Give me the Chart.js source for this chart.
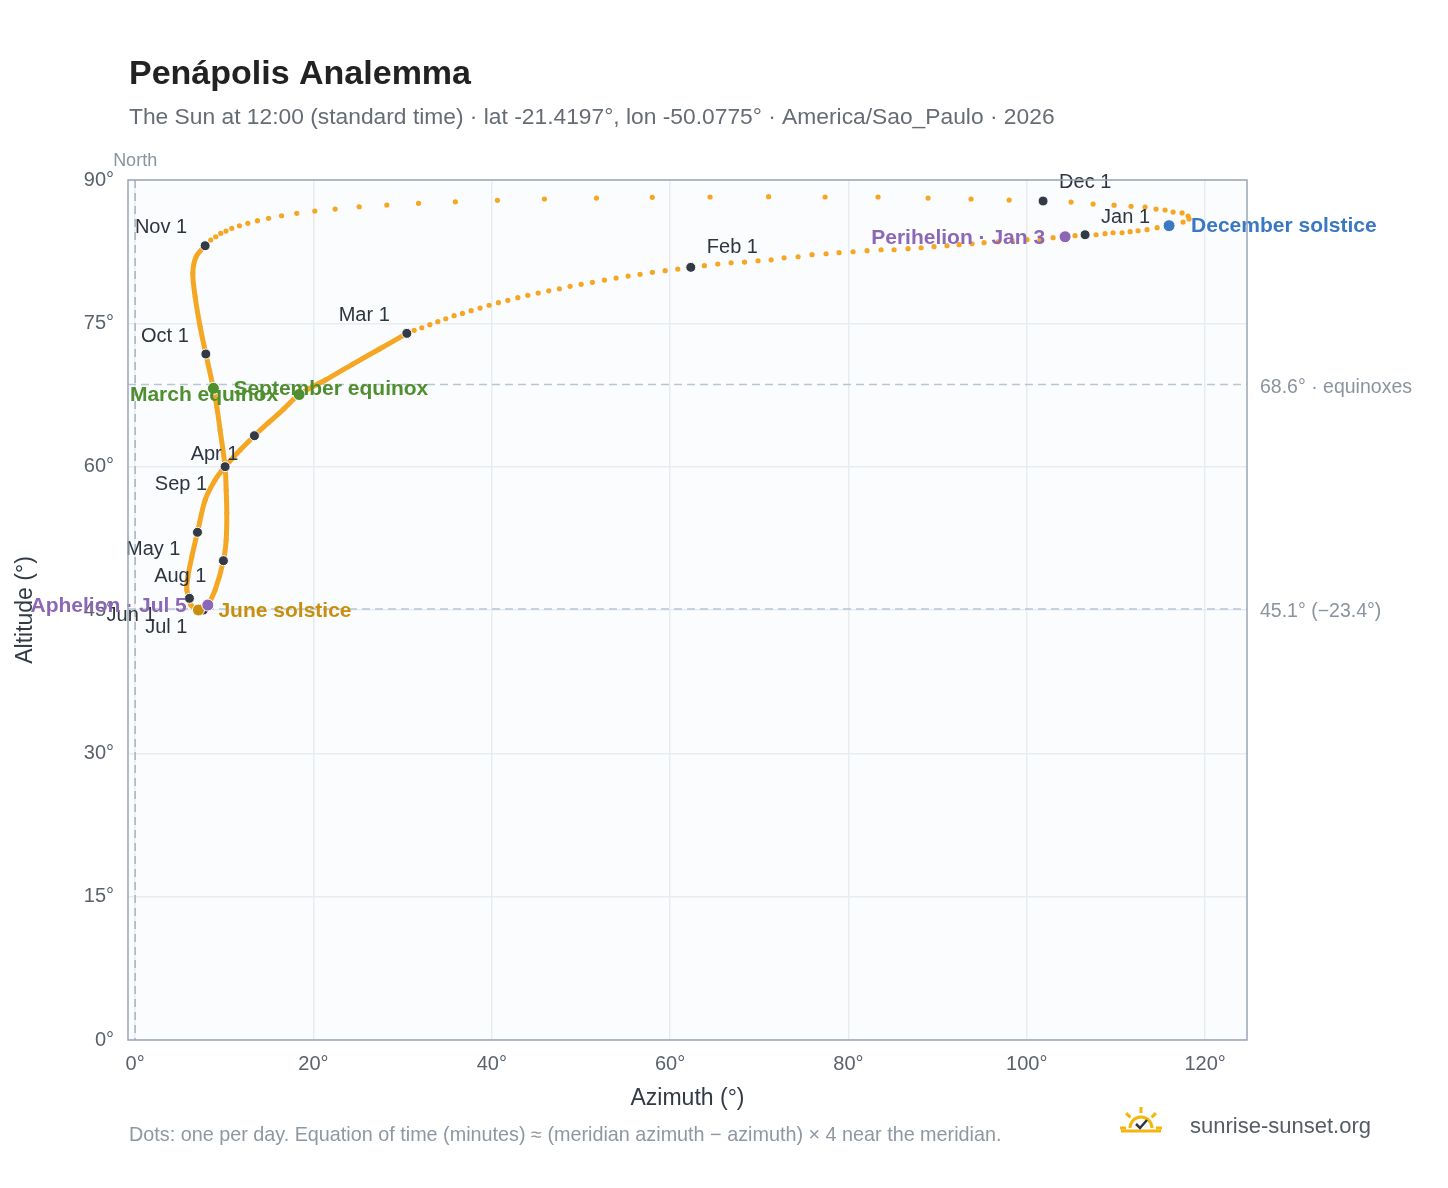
<!DOCTYPE html>
<html>
<head>
<meta charset="utf-8">
<script src="https://cdn.jsdelivr.net/npm/chart.js@4.4.1/dist/chart.umd.min.js"></script>
<style>
  html, body { margin: 0; padding: 0; background: #ffffff; }
  canvas { display: block; }
</style>
</head>
<body>
<canvas id="analemma" width="1448" height="1188"></canvas>
<script>
// Daily dots: Nov 1 -> Dec solstice -> Feb -> Mar 1 (sparse, drawn as dots)
const sparseAz = [7.85, 8.48, 9.04, 9.60, 10.19, 10.84, 11.70, 12.64, 13.72, 14.96, 16.42, 18.13, 20.15, 22.43,
  25.13, 28.23, 31.78, 35.91, 40.63, 45.90, 51.74, 58.00, 64.48, 71.05, 77.38, 83.32, 88.93, 93.75, 98.02,
  101.83, 104.97, 107.44, 109.79, 111.70, 113.27, 114.50, 115.51, 116.41, 117.42, 118.09, 118.20, 117.53,
  115.96, 114.62, 113.49, 112.48, 111.59, 110.69, 109.68, 108.78, 107.77, 106.54, 105.42, 104.30, 102.95,
  101.49, 100.03, 98.35, 96.78, 95.21, 93.87, 92.41, 91.06, 89.60, 88.15, 86.69, 85.12, 83.66, 82.09, 80.52,
  78.95, 77.49, 75.92, 74.35, 72.78, 71.33, 69.86, 68.35, 66.84, 65.35, 63.84, 62.32, 60.86, 59.44, 58.01,
  56.63, 55.29, 53.94, 52.63, 51.28, 50.02, 48.78, 47.58, 46.39, 45.20, 44.04, 42.92, 41.80, 40.74, 39.70,
  38.69, 37.68, 36.71, 35.77, 34.84, 33.95, 33.05, 32.15, 31.29, 30.47];
const sparseAlt = [83.09, 83.72, 84.06, 84.42, 84.66, 84.94, 85.21, 85.47, 85.74, 85.99, 86.26, 86.51, 86.75, 86.96,
  87.20, 87.38, 87.56, 87.72, 87.87, 88.01, 88.11, 88.19, 88.22, 88.25, 88.22, 88.22, 88.11, 88.01, 87.90,
  87.80, 87.69, 87.48, 87.37, 87.24, 87.17, 86.96, 86.86, 86.65, 86.55, 86.23, 85.92, 85.60,
  85.22, 85.01, 84.80, 84.69, 84.59, 84.48, 84.48, 84.38, 84.27, 84.27, 84.17, 84.06, 83.96,
  83.75, 83.75, 83.65, 83.54, 83.44, 83.33, 83.23, 83.12, 83.02, 82.91, 82.81, 82.70, 82.70, 82.60, 82.49,
  82.39, 82.28, 82.18, 81.97, 81.86, 81.65, 81.55, 81.41, 81.34, 81.21, 81.03, 80.86, 80.68, 80.51, 80.34,
  80.13, 79.95, 79.74, 79.53, 79.29, 79.08, 78.87, 78.62, 78.41, 78.17, 77.93, 77.68, 77.41, 77.16, 76.89,
  76.60, 76.32, 76.04, 75.80, 75.48, 75.17, 74.86, 74.54, 74.27, 73.95];

// Mar 1 -> Nov 1, where the dots run together into a thick line
const denseAz = [30.47, 27.36, 24.37, 21.39, 18.39, 16.63, 14.95, 13.38, 11.78, 10.09, 8.97, 7.85, 6.99,
  6.36, 5.91, 5.80, 6.09, 6.25, 7.10, 7.66, 8.15, 8.97, 9.90, 10.21, 10.28, 10.21, 10.09, 9.53, 9.16,
  8.78, 7.93, 7.29, 6.73, 6.47, 6.84, 7.85];
const denseAlt = [73.95, 72.29, 70.71, 69.10, 67.55, 66.00, 64.60, 63.24, 61.74, 60.00, 58.60, 56.51, 53.13,
  50.58, 48.48, 47.09, 46.22, 45.52, 45.00, 45.00, 45.52, 47.09, 50.16, 52.32, 55.12, 57.56, 60.00, 63.83, 66.28,
  68.20, 71.79, 74.65, 77.78, 80.23, 81.97, 83.12];

const monthNames = ['Jan 1', 'Feb 1', 'Mar 1', 'Apr 1', 'May 1', 'Jun 1', 'Jul 1', 'Aug 1', 'Sep 1', 'Oct 1', 'Nov 1', 'Dec 1'];
const monthAz = [106.54, 62.32, 30.47, 13.38, 6.99, 6.09, 7.66, 9.90, 10.09, 7.93, 7.85, 101.83];
const monthAlt = [84.27, 80.86, 73.95, 63.24, 53.13, 46.22, 45.00, 50.16, 60.00, 71.79, 83.12, 87.80];

const eventNames = ['March equinox', 'September equinox', 'June solstice', 'December solstice', 'Perihelion · Jan 3', 'Aphelion · Jul 5'];
const eventAz = [18.39, 8.78, 7.10, 115.96, 104.30, 8.15];
const eventAlt = [67.55, 68.20, 45.00, 85.22, 84.06, 45.52];

const xTicks = [0, 20, 40, 60, 80, 100, 120];
const yTicks = [0, 15, 30, 45, 60, 75, 90];

const refAlt = [68.6, 45.1];
const refNames = ['68.6° · equinoxes', '45.1° (−23.4°)'];

// styles and label offsets (pixels), kept apart from the values
const eventColors = ['#4f8f2f', '#4f8f2f', '#c98f0c', '#3a78c3', '#8c67b5', '#8c67b5'];
const monthLabelOffset = [[16, -17, 'left'], [16, -20, 'left'], [-17, -18, 'right'], [-16, 19, 'right'],
  [-17, 17, 'right'], [-34, 17, 'right'], [-16, 17, 'right'], [-17, 16, 'right'], [-18, 18, 'right'],
  [-17, -18, 'right'], [-18, -18, 'right'], [16, -19, 'left']];
const eventLabelOffset = [[-21, 1, 'right'], [20, 1, 'left'], [20, 1, 'left'], [22, 1, 'left'], [-20, 1, 'right'], [-21, 1, 'right']];

const ORANGE = '#f5a623';
const FONT = '"Liberation Sans", Arial, Helvetica, sans-serif';

const pts = (xs, ys) => xs.map((x, i) => ({x: x, y: ys[i]}));

const decorPlugin = {
  id: 'decor',
  beforeDraw(chart) {
    const {ctx, chartArea: a} = chart;
    ctx.save();
    ctx.fillStyle = '#ffffff';
    ctx.fillRect(0, 0, chart.width, chart.height);
    ctx.fillStyle = '#fbfcfe';
    ctx.fillRect(a.left, a.top, a.right - a.left, a.bottom - a.top);
    ctx.restore();
  },
  beforeDatasetsDraw(chart) {
    const {ctx, chartArea: a, scales: {x, y}} = chart;
    ctx.save();
    ctx.setLineDash([8, 5]);
    ctx.strokeStyle = '#b9c5d3';
    ctx.lineWidth = 1.5;
    refAlt.forEach(v => {
      const py = y.getPixelForValue(v);
      ctx.beginPath(); ctx.moveTo(a.left, py); ctx.lineTo(a.right, py); ctx.stroke();
    });
    const px = x.getPixelForValue(0);
    ctx.strokeStyle = '#a9b3bf';
    ctx.beginPath(); ctx.moveTo(px, a.top); ctx.lineTo(px, a.bottom); ctx.stroke();
    ctx.restore();
  },
  afterDatasetsDraw(chart) {
    const {ctx, chartArea: a, scales: {x, y}} = chart;
    ctx.save();
    ctx.textBaseline = 'middle';
    ctx.font = '20px ' + FONT;
    ctx.fillStyle = '#2f3540';
    monthNames.forEach((n, i) => {
      const o = monthLabelOffset[i];
      ctx.textAlign = o[2];
      ctx.fillText(n, x.getPixelForValue(monthAz[i]) + o[0], y.getPixelForValue(monthAlt[i]) + o[1]);
    });
    ctx.font = 'bold 21px ' + FONT;
    eventNames.forEach((n, i) => {
      const o = eventLabelOffset[i];
      ctx.fillStyle = eventColors[i];
      ctx.textAlign = o[2];
      ctx.fillText(n, x.getPixelForValue(eventAz[i]) + o[0], y.getPixelForValue(eventAlt[i]) + o[1]);
    });
    // reference line labels
    ctx.font = '19.5px ' + FONT;
    ctx.fillStyle = '#8a939e';
    ctx.textAlign = 'left';
    refNames.forEach((n, i) => ctx.fillText(n, a.right + 13, y.getPixelForValue(refAlt[i]) + 3));
    ctx.textAlign = 'center';
    ctx.font = '18px ' + FONT;
    ctx.fillText('North', x.getPixelForValue(0), a.top - 19);
    ctx.restore();
  },
  afterDraw(chart) {
    const {ctx, chartArea: a} = chart;
    ctx.save();
    ctx.strokeStyle = '#9aa6b4';
    ctx.lineWidth = 1.5;
    ctx.strokeRect(a.left, a.top, a.right - a.left, a.bottom - a.top);
    ctx.textBaseline = 'alphabetic';
    ctx.textAlign = 'left';
    ctx.fillStyle = '#222222';
    ctx.font = 'bold 34px ' + FONT;
    ctx.fillText('Penápolis Analemma', 129, 84);
    ctx.fillStyle = '#666c75';
    ctx.font = '22.8px ' + FONT;
    ctx.fillText('The Sun at 12:00 (standard time) · lat -21.4197°, lon -50.0775° · America/Sao_Paulo · 2026', 129, 124);
    ctx.fillStyle = '#8f97a1';
    ctx.font = '19.8px ' + FONT;
    ctx.fillText('Dots: one per day. Equation of time (minutes) ≈ (meridian azimuth − azimuth) × 4 near the meridian.', 129, 1141);
    ctx.fillStyle = '#333a45';
    ctx.font = '23px ' + FONT;
    ctx.textAlign = 'center';
    ctx.fillText('Azimuth (°)', (a.left + a.right) / 2, 1105);
    ctx.save();
    ctx.translate(32, (a.top + a.bottom) / 2);
    ctx.rotate(-Math.PI / 2);
    ctx.fillText('Altitude (°)', 0, 0);
    ctx.restore();
    // logo
    const cx = 1141, cy = 1128;
    ctx.strokeStyle = '#f5b50a';
    ctx.lineWidth = 3;
    ctx.beginPath(); ctx.arc(cx, cy, 11, Math.PI, 2 * Math.PI); ctx.stroke();
    for (let k = 0; k < 5; k++) {
      const ang = Math.PI + k * Math.PI / 4;
      ctx.beginPath();
      ctx.moveTo(cx + Math.cos(ang) * 15, cy + Math.sin(ang) * 15);
      ctx.lineTo(cx + Math.cos(ang) * 21, cy + Math.sin(ang) * 21);
      ctx.stroke();
    }
    ctx.beginPath(); ctx.moveTo(cx - 20, cy + 3); ctx.lineTo(cx + 20, cy + 3); ctx.stroke();
    ctx.strokeStyle = '#2f3540';
    ctx.lineWidth = 2.5;
    ctx.beginPath(); ctx.moveTo(cx - 5, cy - 4); ctx.lineTo(cx - 1, cy); ctx.lineTo(cx + 6, cy - 8); ctx.stroke();
    ctx.fillStyle = '#555c66';
    ctx.font = '22px ' + FONT;
    ctx.textAlign = 'left';
    ctx.fillText('sunrise-sunset.org', 1190, 1133);
    ctx.restore();
  }
};

const tickFont = {size: 20, family: FONT};

new Chart(document.getElementById('analemma'), {
  type: 'scatter',
  data: {
    datasets: [
      {
        data: pts(denseAz, denseAlt), showLine: true, borderColor: ORANGE, borderWidth: 5,
        tension: 0.3, pointRadius: 2.5, pointBackgroundColor: ORANGE, pointBorderWidth: 0, order: 3
      },
      {
        data: pts(sparseAz, sparseAlt), showLine: false, pointRadius: 2.6,
        pointBackgroundColor: ORANGE, pointBorderWidth: 0, order: 2
      },
      {
        data: pts(monthAz, monthAlt), showLine: false, pointRadius: 5,
        pointBackgroundColor: '#333a45', pointBorderColor: '#ffffff', pointBorderWidth: 1, order: 1
      },
      {
        data: pts(eventAz, eventAlt), showLine: false, pointRadius: 6,
        pointBackgroundColor: eventColors, pointBorderColor: '#ffffff', pointBorderWidth: 1, order: 0
      }
    ]
  },
  options: {
    responsive: false,
    animation: false,
    devicePixelRatio: 1,
    clip: false,
    layout: {padding: {left: 0, top: 180, right: 201, bottom: 68}},
    plugins: {legend: {display: false}, tooltip: {enabled: false}, title: {display: false}},
    scales: {
      x: {
        type: 'linear', min: -0.8, max: 124.7,
        afterBuildTicks: s => { s.ticks = xTicks.map(v => ({value: v})); },
        afterFit: s => { s.height = 80; },
        grid: {color: '#e7ecf1', lineWidth: 1.5, drawTicks: false},
        border: {display: false},
        ticks: {padding: 12, color: '#5b626c', font: tickFont, callback: v => v + '°'}
      },
      y: {
        type: 'linear', min: 0, max: 90,
        afterBuildTicks: s => { s.ticks = yTicks.map(v => ({value: v})); },
        afterFit: s => { s.width = 128; },
        grid: {color: '#e7ecf1', lineWidth: 1.5, drawTicks: false},
        border: {display: false},
        ticks: {padding: 14, color: '#5b626c', font: tickFont, callback: v => v + '°'}
      }
    }
  },
  plugins: [decorPlugin]
});
</script>
</body>
</html>
